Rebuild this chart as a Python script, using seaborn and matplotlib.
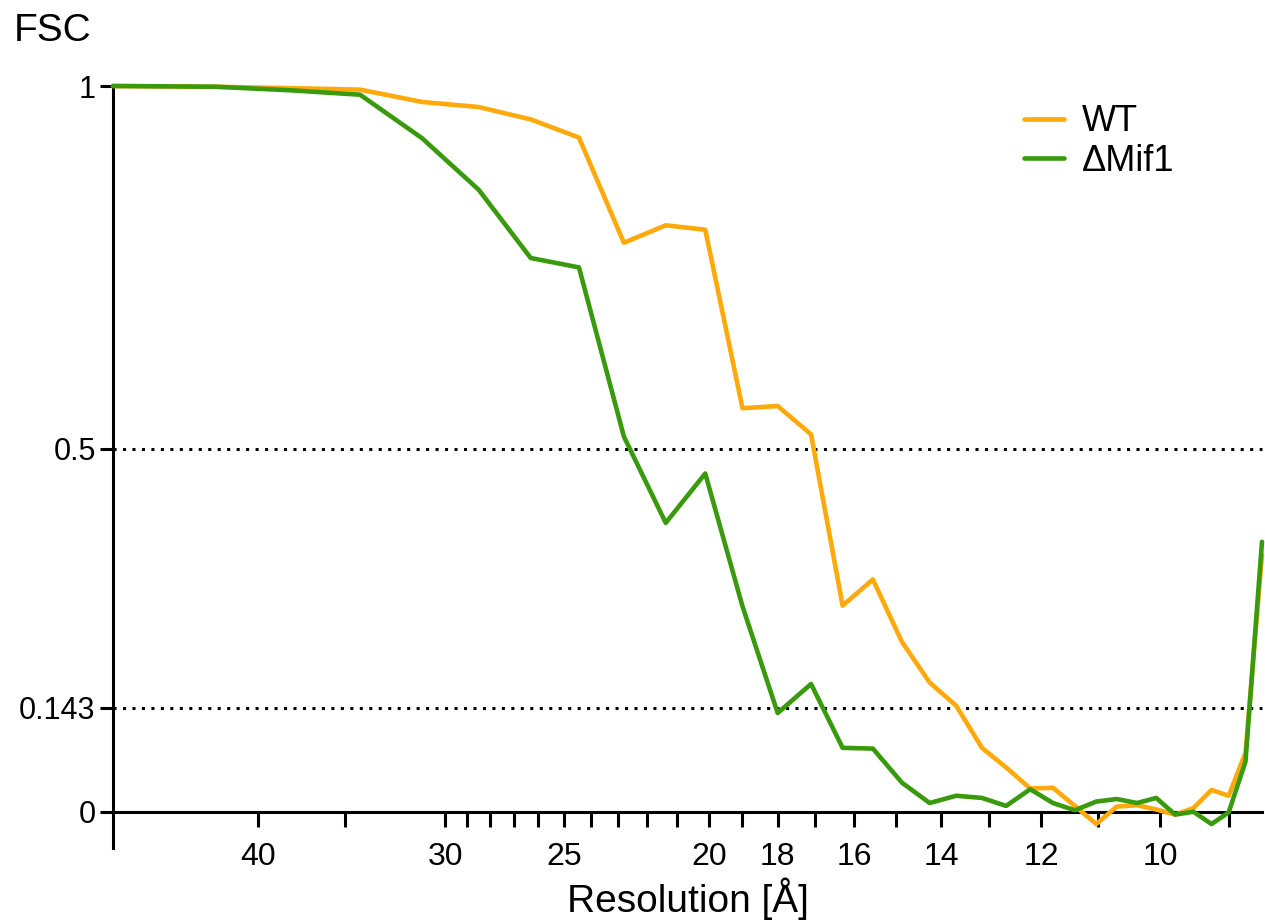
import numpy as np
import pandas as pd
import matplotlib
matplotlib.use("Agg")
import matplotlib.pyplot as plt
from matplotlib.ticker import NullLocator, FixedLocator
import seaborn as sns

# -----------------------------
# Data
# -----------------------------
resolution = [50.0, 42.75, 38.0, 34.2, 31.09, 28.5, 26.31, 24.43, 22.8, 21.38,
              20.12, 19.0, 18.0, 17.1, 16.29, 15.55, 14.87, 14.25, 13.68, 13.15,
              12.67, 12.21, 11.79, 11.4, 11.03, 10.69, 10.36, 10.06, 9.77, 9.5,
              9.24, 9.0, 8.77, 8.55]

fsc_wt = [1.0, 0.999, 0.997, 0.995, 0.978, 0.971, 0.954, 0.929, 0.784, 0.808,
          0.802, 0.556, 0.559, 0.520, 0.284, 0.320, 0.234, 0.178, 0.146, 0.088,
          0.061, 0.032, 0.033, 0.008, -0.017, 0.007, 0.009, 0.003, -0.004, 0.005,
          0.030, 0.022, 0.081, 0.354]

fsc_mif1 = [1.0, 0.999, 0.994, 0.988, 0.928, 0.857, 0.763, 0.750, 0.517, 0.398,
            0.466, 0.283, 0.136, 0.176, 0.088, 0.087, 0.040, 0.012, 0.022, 0.019,
            0.008, 0.031, 0.012, 0.002, 0.014, 0.0175, 0.012, 0.019, -0.004, 0.0,
            -0.017, -0.001, 0.069, 0.372]

samples = ["WT", "\u0394Mif1"]
colors = ["#FFA90A", "#389A0C"]

x_ticks = [40, 35, 30, 29, 28, 27, 26, 25, 24, 23, 22, 21, 20, 19, 18, 17,
           16, 15, 14, 13, 12, 11, 10, 9]
x_labeled = [40, 30, 25, 20, 18, 16, 14, 12, 10]
y_ticks = [0, 0.143, 0.5, 1]
y_labels = ["0", "0.143", "0.5", "1"]
thresholds = [0.5, 0.143]

df = pd.DataFrame({
    "res": resolution * 2,
    "fsc": fsc_wt + fsc_mif1,
    "sample": [samples[0]] * len(resolution) + [samples[1]] * len(resolution),
})

# -----------------------------
# Plot
# -----------------------------
sns.set_style("ticks")
plt.rcParams["font.family"] = ["Liberation Sans", "DejaVu Sans"]
plt.rcParams["text.color"] = "black"
plt.rcParams["axes.labelcolor"] = "black"
plt.rcParams["axes.edgecolor"] = "black"
plt.rcParams["xtick.color"] = "black"
plt.rcParams["ytick.color"] = "black"

fig = plt.figure(figsize=(12.65, 9.22), dpi=100)
ax = fig.add_axes([113 / 1265, 1 - 848 / 922, (1262 - 113) / 1265, (848 - 86) / 922])

for t in thresholds:
    ax.axhline(t, color="black", linewidth=2.2, linestyle=(0, (1, 2.1)), zorder=1)

sns.lineplot(data=df, x="res", y="fsc", hue="sample", hue_order=samples,
             palette=colors, linewidth=3.3, ax=ax, zorder=3)
for line in ax.lines:
    line.set_clip_on(False)

ax.set_xscale("log")
ax.set_xlim(resolution[0], resolution[-1])
ax.set_ylim(-0.05, 1.0)

ax.xaxis.set_major_locator(FixedLocator(x_ticks))
ax.xaxis.set_minor_locator(NullLocator())
ax.set_xticklabels([str(t) if t in x_labeled else "" for t in x_ticks])
ax.set_yticks(y_ticks)
ax.set_yticklabels(y_labels)

ax.spines["top"].set_visible(False)
ax.spines["right"].set_visible(False)
ax.spines["bottom"].set_position(("data", 0))
for s in ["left", "bottom"]:
    ax.spines[s].set_linewidth(2.2)

ax.tick_params(axis="x", length=11, width=2.2, pad=11, labelsize=23)
ax.tick_params(axis="y", length=9.5, width=2.2, pad=3, labelsize=22)

ax.set_xlabel("Resolution [\u00c5]", fontsize=28)
ax.xaxis.label.set_va("baseline")
ax.xaxis.set_label_coords(0.5, (848 - 912) / 762)
ax.set_ylabel("")
fig.text(14 / 1265, 1 - 41 / 922, "FSC", fontsize=28, ha="left", va="baseline")

handles, labels = ax.get_legend_handles_labels()
ax.legend(handles, labels, loc="upper left", bbox_to_anchor=(1010 / 1265, 1 - 90 / 922),
          bbox_transform=fig.transFigure, frameon=False, fontsize=26,
          handlelength=1.1, handletextpad=0.5, labelspacing=0.12, borderaxespad=0)

fig.savefig("out.png", dpi=100)
plt.close(fig)
